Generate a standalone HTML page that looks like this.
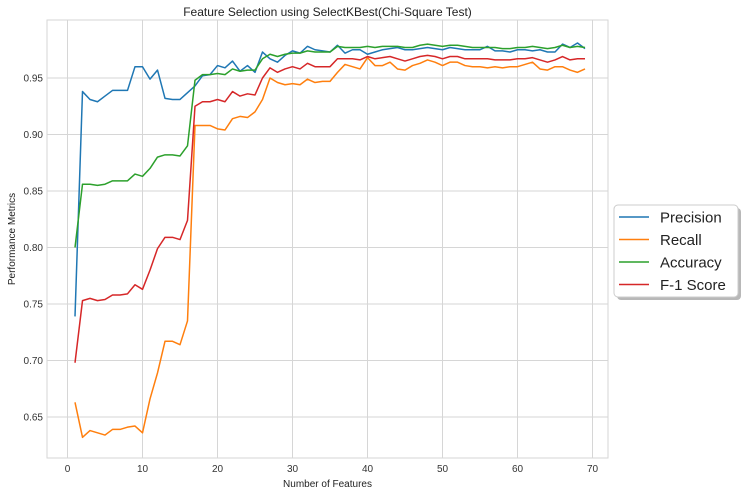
<!DOCTYPE html>
<html><head><meta charset="utf-8"><style>
html,body{margin:0;padding:0;background:#fff;}
svg{display:block;font-family:"Liberation Sans",sans-serif;}
</style></head><body>
<svg id="chart" width="745" height="496"></svg>
<script>
const features = Array.from({length:69},(_,i)=>i+1);
const precision = [0.739,0.938,0.931,0.929,0.934,0.939,0.939,0.939,0.960,0.960,0.949,0.957,0.932,0.931,0.931,0.937,0.943,0.952,0.953,0.961,0.959,0.965,0.956,0.961,0.955,0.973,0.967,0.964,0.970,0.974,0.972,0.978,0.975,0.974,0.973,0.979,0.972,0.975,0.975,0.971,0.973,0.975,0.976,0.977,0.975,0.975,0.976,0.977,0.976,0.975,0.977,0.976,0.975,0.975,0.975,0.978,0.974,0.974,0.973,0.975,0.975,0.974,0.975,0.973,0.973,0.980,0.977,0.981,0.976];
const recall = [0.663,0.632,0.638,0.636,0.634,0.639,0.639,0.641,0.642,0.636,0.666,0.689,0.717,0.717,0.714,0.735,0.908,0.908,0.908,0.905,0.904,0.914,0.916,0.915,0.920,0.931,0.950,0.946,0.944,0.945,0.944,0.949,0.946,0.947,0.947,0.955,0.962,0.960,0.958,0.968,0.961,0.961,0.964,0.958,0.957,0.961,0.963,0.966,0.964,0.961,0.964,0.964,0.961,0.960,0.960,0.959,0.960,0.959,0.960,0.960,0.962,0.964,0.958,0.957,0.960,0.960,0.957,0.955,0.958];
const accuracy = [0.800,0.856,0.856,0.855,0.856,0.859,0.859,0.859,0.865,0.863,0.870,0.880,0.882,0.882,0.881,0.890,0.948,0.953,0.953,0.954,0.953,0.958,0.956,0.957,0.957,0.967,0.971,0.969,0.971,0.972,0.972,0.974,0.973,0.973,0.973,0.978,0.977,0.977,0.977,0.978,0.977,0.978,0.978,0.978,0.977,0.977,0.979,0.980,0.979,0.978,0.979,0.979,0.978,0.977,0.977,0.977,0.977,0.976,0.976,0.977,0.977,0.978,0.977,0.976,0.977,0.979,0.977,0.978,0.977];
const f1 = [0.698,0.753,0.755,0.753,0.754,0.758,0.758,0.759,0.767,0.763,0.780,0.799,0.809,0.809,0.807,0.824,0.925,0.929,0.929,0.931,0.929,0.938,0.934,0.936,0.935,0.950,0.959,0.955,0.958,0.960,0.958,0.963,0.960,0.960,0.960,0.967,0.967,0.967,0.966,0.969,0.967,0.968,0.969,0.967,0.965,0.967,0.969,0.970,0.969,0.967,0.969,0.969,0.967,0.967,0.967,0.967,0.966,0.966,0.966,0.967,0.967,0.968,0.966,0.964,0.966,0.969,0.966,0.967,0.967];
const xTicks = [0,10,20,30,40,50,60,70];
const yTicks = [0.65,0.70,0.75,0.80,0.85,0.90,0.95];
const seriesNames = ["Precision","Recall","Accuracy","F-1 Score"];
const colors = ["#1f77b4","#ff7f0e","#2ca02c","#d62728"];

const NS="http://www.w3.org/2000/svg";
const svg=document.getElementById('chart');
const L=47,R=608,T=20,B=458;
const xs=v=>67.5+(v-0)*7.5;
const ys=v=>78+(0.95-v)/0.05*56.5;
function mk(tag,attrs,parent){const e=document.createElementNS(NS,tag);for(const k in attrs)e.setAttribute(k,attrs[k]);(parent||svg).appendChild(e);return e;}

const grid=mk('g',{});


xTicks.forEach(t=>{
  const l=mk('line',{x1:xs(t),x2:xs(t),y1:T,y2:B,stroke:'#d6d6d6','stroke-width':1},grid);
  
  
  const tx=mk('text',{x:xs(t),y:B+14,'text-anchor':'middle','font-size':10,fill:'#333'});
  
  
  tx.textContent=t;
});
yTicks.forEach(t=>{
  const l=mk('line',{x1:L,x2:R,y1:ys(t),y2:ys(t),stroke:'#d6d6d6','stroke-width':1},grid);
  
  
  const tx=mk('text',{x:L-4,y:ys(t)+3.5,'text-anchor':'end','font-size':10,fill:'#333'});
  
  
  tx.textContent=t.toFixed(2);
});
const frame=mk('rect',{x:L,y:T,width:R-L,height:B-T,fill:'none',stroke:'#d6d6d6','stroke-width':1});



[precision,recall,accuracy,f1].forEach((s,i)=>{
  const p=mk('polyline',{points:s.map((v,j)=>xs(features[j])+','+ys(v)).join(' '),fill:'none',stroke:colors[i],'stroke-width':1.5,'stroke-linejoin':'round'});
  
  
});

const title=mk('text',{x:(L+R)/2,y:16,'text-anchor':'middle','font-size':12,fill:'#222'});


title.textContent='Feature Selection using SelectKBest(Chi-Square Test)';
const xl=mk('text',{x:(L+R)/2,y:487,'text-anchor':'middle','font-size':10,fill:'#222'});


xl.textContent='Number of Features';
const yl=mk('text',{x:15,y:(T+B)/2,'text-anchor':'middle','font-size':10,fill:'#222',transform:'rotate(-90 15 '+((T+B)/2)+')'});


yl.textContent='Performance Metrics';

const lg=mk('g',{});


mk('rect',{x:617,y:208,width:124,height:92,rx:4,fill:'#888',opacity:0.6},lg);
mk('rect',{x:614,y:205,width:124,height:92,rx:4,fill:'#fff',stroke:'#ccc'},lg);
seriesNames.forEach((n,i)=>{
  const y=217+i*22.5;
  const ln=mk('line',{x1:619,x2:649,y1:y,y2:y,stroke:colors[i],'stroke-width':1.5},lg);
  
  
  const t=mk('text',{x:660,y:y+5.5,'font-size':15,fill:'#222'},lg);
  
  
  t.textContent=n;
});
</script>
</body></html>
